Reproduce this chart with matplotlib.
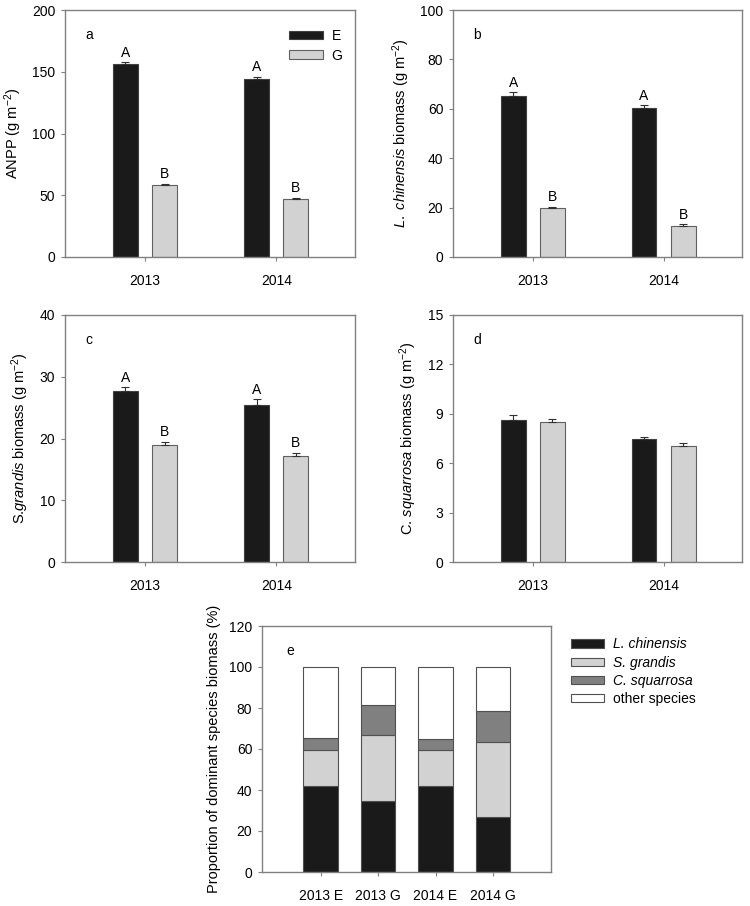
import matplotlib
matplotlib.use("Agg")
import matplotlib.pyplot as plt
from matplotlib.patches import Patch
import numpy as np

plt.rcParams['font.family'] = ['Liberation Sans', 'DejaVu Sans']
plt.rcParams['mathtext.fontset'] = 'custom'
plt.rcParams['mathtext.rm'] = 'Liberation Sans'
plt.rcParams['mathtext.it'] = 'Liberation Sans:italic'
plt.rcParams['axes.unicode_minus'] = False

years = ['2013', '2014']
anpp_E = [156, 144]; anpp_E_err = [1.5, 2.0]
anpp_G = [58.5, 47]; anpp_G_err = [1.0, 1.0]
lc_E = [65.3, 60.5]; lc_E_err = [1.3, 1.0]
lc_G = [20.0, 12.7]; lc_G_err = [0.4, 0.5]
sg_E = [27.7, 25.5]; sg_E_err = [0.6, 0.9]
sg_G = [19.0, 17.2]; sg_G_err = [0.5, 0.5]
cs_E = [8.65, 7.45]; cs_E_err = [0.25, 0.15]
cs_G = [8.50, 7.05]; cs_G_err = [0.20, 0.15]
letters_E = ['A', 'A']
letters_G = ['B', 'B']

groups = ['2013 E', '2013 G', '2014 E', '2014 G']
prop_L = [42.0, 34.5, 42.0, 27.0]
prop_S = [17.5, 32.3, 17.7, 36.5]
prop_C = [6.0, 14.5, 5.3, 15.0]
prop_O = [34.5, 18.7, 35.0, 21.5]
species = ['L. chinensis', 'S. grandis', 'C. squarrosa', 'other species']

BLACK = '#1a1a1a'
LIGHT = '#d2d2d2'
MID = '#808080'
SPINE = '#808080'
FS = 10

fig = plt.figure(figsize=(7.5, 9.06), dpi=100)
W, H = 750, 906

def add_ax(l, r, t, b):
    return fig.add_axes([l / W, 1 - b / H, (r - l) / W, (b - t) / H])

def style(ax):
    for s in ax.spines.values():
        s.set_color(SPINE)
        s.set_linewidth(1.0)
    ax.tick_params(direction='out', length=3, width=0.8, color=SPINE, labelsize=FS, pad=4)
    ax.tick_params(axis='x', pad=9)

def panel(ax, E, Ee, G, Ge, ymax, yticks, ylabel, tag, letters=True, legend=False):
    x = np.arange(len(years))
    w = 0.19
    off = 0.15
    ax.bar(x - off, E, w, color=BLACK, edgecolor='#404040', linewidth=0.8, label='E', zorder=2)
    ax.bar(x + off, G, w, color=LIGHT, edgecolor='#606060', linewidth=0.8, label='G', zorder=2)
    ax.errorbar(x - off, E, yerr=[np.zeros(len(E)), Ee], fmt='none', ecolor='#303030', elinewidth=0.8, capsize=3, capthick=0.8, zorder=3)
    ax.errorbar(x + off, G, yerr=[np.zeros(len(G)), Ge], fmt='none', ecolor='#303030', elinewidth=0.8, capsize=3, capthick=0.8, zorder=3)
    if letters:
        for i in range(len(years)):
            ax.text(x[i] - off, E[i] + Ee[i] + ymax * 0.01, letters_E[i], ha='center', va='bottom', fontsize=FS)
            ax.text(x[i] + off, G[i] + Ge[i] + ymax * 0.01, letters_G[i], ha='center', va='bottom', fontsize=FS)
    ax.set_xlim(-0.61, 1.60)
    ax.set_ylim(0, ymax)
    ax.set_yticks(yticks)
    ax.set_xticks(x)
    ax.set_xticklabels(years)
    ax.set_ylabel(ylabel, fontsize=10.5, labelpad=6)
    ax.text(0.07, 0.90, tag, transform=ax.transAxes, fontsize=FS, ha='left', va='center')
    style(ax)
    if legend:
        ax.legend(loc='upper right', bbox_to_anchor=(1.0, 0.975), frameon=False, fontsize=FS,
                  handlelength=2.4, handleheight=0.55, labelspacing=0.42, handletextpad=0.65)

ax_a = add_ax(65, 355, 10, 257)
panel(ax_a, anpp_E, anpp_E_err, anpp_G, anpp_G_err, 200, [0, 50, 100, 150, 200],
      r'ANPP (g m$^{-2}$)', 'a', legend=True)
ax_b = add_ax(453, 742, 10, 257)
panel(ax_b, lc_E, lc_E_err, lc_G, lc_G_err, 100, [0, 20, 40, 60, 80, 100],
      r'$\mathit{L.\ chinensis}$ biomass (g m$^{-2}$)', 'b')
ax_c = add_ax(65, 355, 315, 562)
panel(ax_c, sg_E, sg_E_err, sg_G, sg_G_err, 40, [0, 10, 20, 30, 40],
      r'S.$\mathit{grandis}$ biomass (g m$^{-2}$)', 'c')
ax_d = add_ax(453, 742, 315, 562)
panel(ax_d, cs_E, cs_E_err, cs_G, cs_G_err, 15, [0, 3, 6, 9, 12, 15],
      r'C. $\mathit{squarrosa}$ biomass (g m$^{-2}$)', 'd', letters=False)

ax_e = add_ax(262, 551, 626, 872)
xe = np.arange(len(groups))
bw = 0.6
bottom = np.zeros(len(groups))
series = [(prop_L, BLACK), (prop_S, LIGHT), (prop_C, MID), (prop_O, 'white')]
for vals, col in series:
    ax_e.bar(xe, vals, bw, bottom=bottom, color=col, edgecolor='#505050', linewidth=0.8, zorder=2)
    bottom = bottom + np.array(vals)
ax_e.set_xlim(-1.02, 4.01)
ax_e.set_ylim(0, 120)
ax_e.set_yticks([0, 20, 40, 60, 80, 100, 120])
ax_e.set_xticks(xe)
ax_e.set_xticklabels(groups)
ax_e.set_ylabel('Proportion of dominant species biomass (%)', fontsize=10.5, labelpad=6)
ax_e.text(0.085, 0.90, 'e', transform=ax_e.transAxes, fontsize=FS, ha='left', va='center')
style(ax_e)

handles = [Patch(facecolor=col, edgecolor='#505050', linewidth=0.8) for _, col in series]
leg = fig.legend(handles, species, loc='upper left', bbox_to_anchor=(558 / W, 1 - 625 / H), frameon=False,
                 fontsize=FS, handlelength=2.4, handleheight=0.55, labelspacing=0.3, handletextpad=0.65)
for t in leg.get_texts()[:3]:
    t.set_fontstyle('italic')

fig.savefig('out.png', dpi=100, facecolor='white')
